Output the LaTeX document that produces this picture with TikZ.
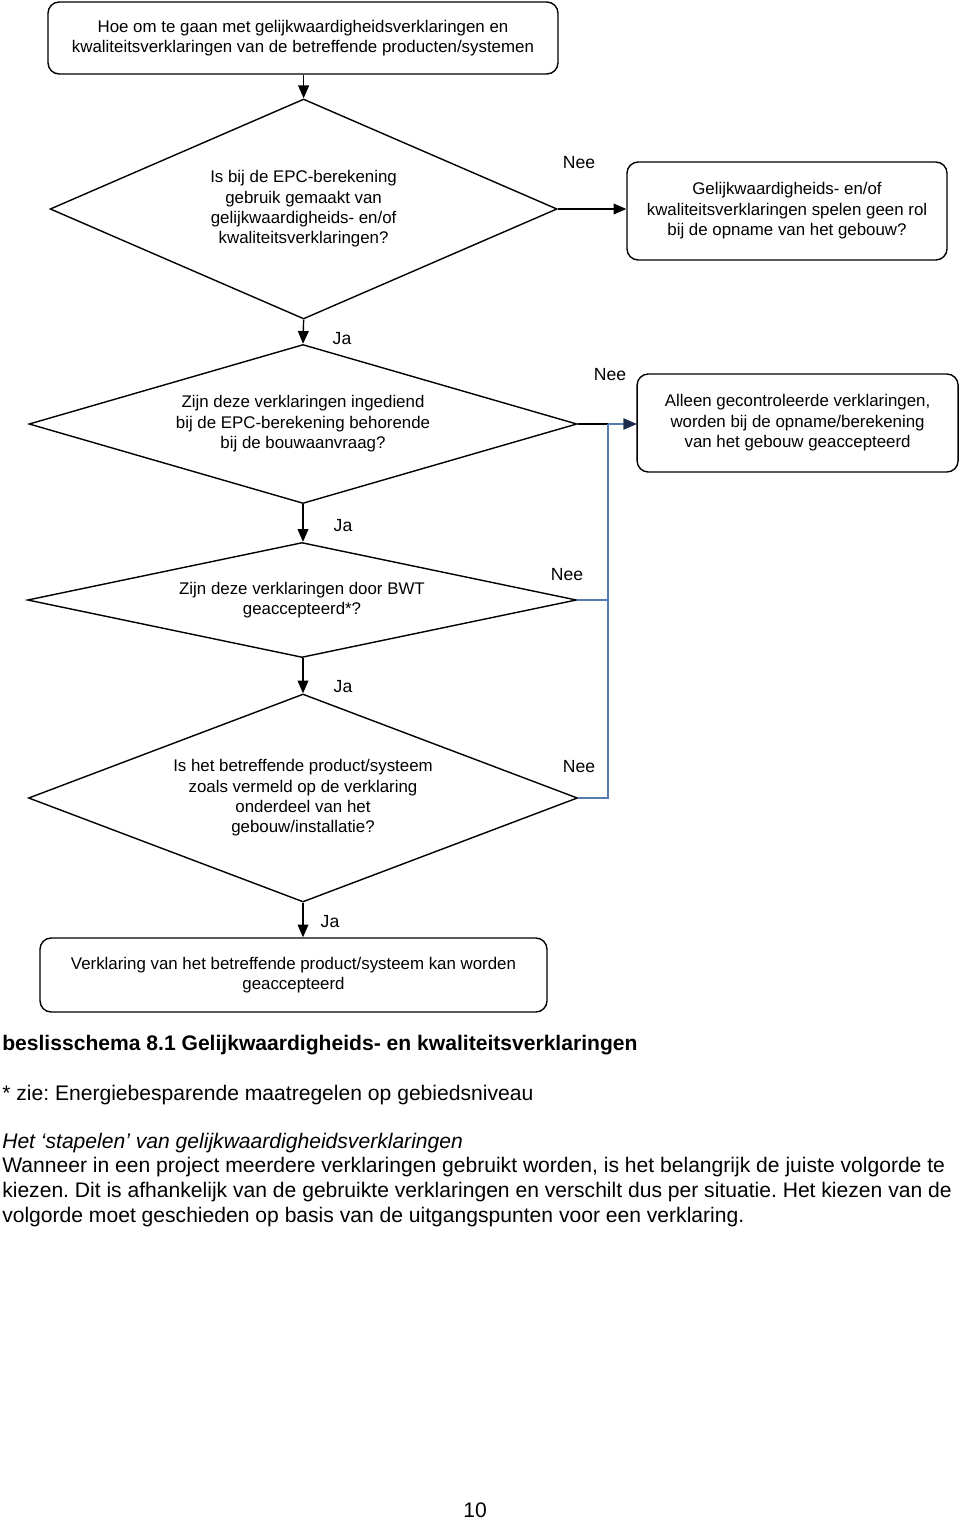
\documentclass[tikz,border=0pt]{standalone}
\usepackage{fontspec}
\setmainfont{Liberation Sans}
\usepackage{tikz}
\usetikzlibrary{shapes.geometric,arrows.meta,positioning}

\definecolor{lijnblauw}{RGB}{84,124,176}
\definecolor{pijlblauw}{RGB}{28,44,78}
\frenchspacing

\begin{document}
\begin{tikzpicture}

\edef\dikte{1pt}
\tikzstyle{blok}=[draw,rectangle,rounded corners=0.28cm,line width=\dikte,align=center,
  inner sep=0pt,font=\fontsize{12}{14.5}\selectfont]
\tikzstyle{vraag}=[draw,diamond,line width=\dikte,align=center,inner sep=0pt,
  font=\fontsize{12}{14.5}\selectfont]
\tikzstyle{keuze}=[inner sep=0pt,font=\fontsize{12.5}{15}\selectfont]
\tikzstyle{pijl}=[line width=\dikte,-{Triangle[length=0.32cm,width=0.27cm]}]
\tikzstyle{terug}=[line width=\dikte,lijnblauw]
\tikzstyle{tekst}=[anchor=west,inner sep=0pt,align=left,font=\fontsize{15}{17.8}\selectfont]

\useasboundingbox (0,0) rectangle (24,-38.025);

%% Beslisschema
\node[blok,minimum width=12.75cm,minimum height=1.8cm] (start) at (7.575,-0.95)
  {Hoe om te gaan met gelijkwaardigheidsverklaringen en\\kwaliteitsverklaringen van de betreffende producten/systemen};
\node[vraag,shape aspect=2.3,minimum width=12.675cm,minimum height=5.5cm] (epc) at (7.59,-5.225)
  {Is bij de EPC-berekening\\gebruik gemaakt van\\gelijkwaardigheids- en/of\\kwaliteitsverklaringen?};
\node[blok,minimum width=8cm,minimum height=2.45cm] (geenrol) at (19.675,-5.275)
  {Gelijkwaardigheids- en/of\\kwaliteitsverklaringen spelen geen rol\\bij de opname van het gebouw?};
\node[vraag,shape aspect=3.45,minimum width=13.7cm,minimum height=3.975cm] (ingediend) at (7.575,-10.6)
  {Zijn deze verklaringen ingediend\\bij de EPC-berekening behorende\\bij de bouwaanvraag?};
\node[blok,minimum width=8.025cm,minimum height=2.45cm] (alleen) at (19.94,-10.575)
  {Alleen gecontroleerde verklaringen,\\worden bij de opname/berekening\\van het gebouw geaccepteerd};
\node[vraag,shape aspect=4.77,minimum width=13.725cm,minimum height=2.875cm] (bwt) at (7.55,-15.0)
  {Zijn deze verklaringen door BWT\\geaccepteerd*?};
\node[vraag,shape aspect=2.64,minimum width=13.725cm,minimum height=5.2cm] (product) at (7.575,-19.95)
  {Is het betreffende product/systeem\\zoals vermeld op de verklaring\\onderdeel van het\\gebouw/installatie?};
\node[blok,minimum width=12.675cm,minimum height=1.85cm] (eind) at (7.3375,-24.375)
  {Verklaring van het betreffende product/systeem kan worden\\geaccepteerd};

%% Ja / Nee
\node[keuze] (ja1) at (8.55,-8.475) {Ja};
\node[keuze] (ja2) at (8.575,-13.15) {Ja};
\node[keuze] (ja3) at (8.575,-17.175) {Ja};
\node[keuze] (ja4) at (8.25,-23.05) {Ja};
\node[keuze] (nee1) at (14.475,-4.075) {Nee};
\node[keuze] (nee2) at (15.25,-9.375) {Nee};
\node[keuze] (nee3) at (14.175,-14.375) {Nee};
\node[keuze] (nee4) at (14.475,-19.175) {Nee};

\coordinate (knik) at (15.2,-10.6);

\draw[pijl] (start.south -| epc.north) -- (epc.north);
\draw[pijl] (epc.south) -- (ingediend.north);
\draw[pijl] (ingediend.south) -- (ingediend.south |- bwt.north);
\draw[pijl] (bwt.south -| product.north) -- (product.north);
\draw[pijl] (product.south) -- (product.south |- eind.north);
\draw[pijl] (epc.east) -- (epc.east -| geenrol.west);
\draw[pijl] (ingediend.east) -- (ingediend.east -| alleen.west);

%% terugkoppeling
\draw[terug] (bwt.east) -- (bwt.east -| knik);
\draw[terug] (product.east) -| (knik);
\draw[terug,-{Triangle[length=0.32cm,width=0.27cm,fill=pijlblauw,color=pijlblauw]}]
  (knik) -- (knik -| alleen.west);

%% Tekst onder het schema
\node[tekst,font=\fontsize{15}{17.8}\selectfont\bfseries] (titel) at (0.05,-26.125)
  {beslisschema 8.1 Gelijkwaardigheids- en kwaliteitsverklaringen};
\node[tekst] (zie) at (0.05,-27.375) {* zie: Energiebesparende maatregelen op gebiedsniveau};
\node[tekst,font=\fontsize{15}{17.8}\selectfont\itshape] (kop) at (0.05,-28.575)
  {Het ‘stapelen’ van gelijkwaardigheidsverklaringen};
\node[tekst] (alinea) at (0.05,-29.8)
  {Wanneer in een project meerdere verklaringen gebruikt worden, is het belangrijk de juiste volgorde te\\
   kiezen. Dit is afhankelijk van de gebruikte verklaringen en verschilt dus per situatie. Het kiezen van de\\
   volgorde moet geschieden op basis van de uitgangspunten voor een verklaring.};
\node[tekst,anchor=center] (pagina) at (11.875,-37.75) {10};

\end{tikzpicture}
\end{document}
